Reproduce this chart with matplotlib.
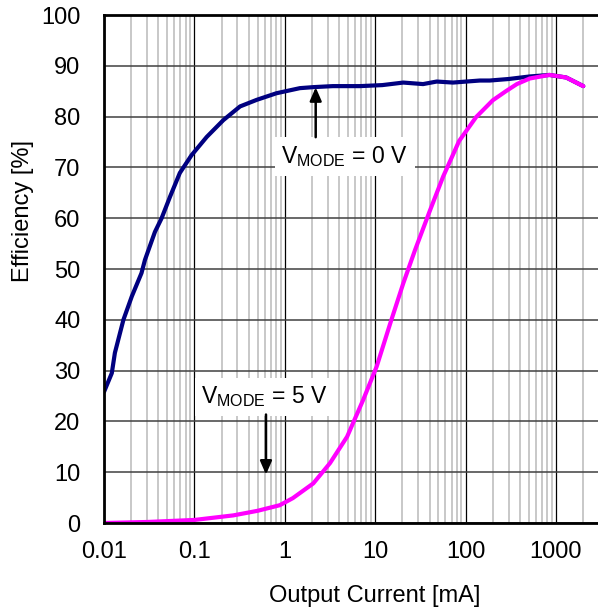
import matplotlib
matplotlib.use("Agg")
import matplotlib.pyplot as plt
from matplotlib.ticker import FixedLocator, LogLocator, NullFormatter

plt.rcParams['font.family'] = ['Liberation Sans', 'DejaVu Sans']
plt.rcParams['mathtext.fontset'] = 'custom'
plt.rcParams['mathtext.rm'] = 'Liberation Sans'
plt.rcParams['mathtext.it'] = 'Liberation Sans'

# Efficiency vs output current, VMODE = 0 V (navy) and VMODE = 5 V (magenta)
i_mode0 = [0.01, 0.0122, 0.0132, 0.0164, 0.0203, 0.026, 0.0284, 0.0366, 0.0434, 0.0537,
           0.069, 0.093, 0.137, 0.209, 0.32, 0.49, 0.81, 1.47, 2.07, 3.4, 6.8, 12,
           20.5, 33.9, 48, 72.6, 144, 185, 300, 513, 850, 1300, 2010]
eff_mode0 = [25.8, 29.5, 33.5, 40, 44.6, 49.2, 51.8, 57.3, 60, 64.2,
             68.9, 72.4, 76, 79.3, 82, 83.3, 84.6, 85.6, 85.8, 86.0, 86.0, 86.2,
             86.7, 86.4, 86.9, 86.7, 87.1, 87.1, 87.4, 87.9, 88.2, 87.7, 86.0]

i_mode5 = [0.01, 0.03, 0.1, 0.27, 0.5, 0.88, 1.23, 2.07, 3.17, 4.9, 7.36, 10.4, 14.7,
           20.5, 27.6, 40.6, 56.6, 85, 131, 200, 280, 370, 513, 850, 1300, 2010]
eff_mode5 = [0, 0.2, 0.6, 1.5, 2.4, 3.5, 4.9, 7.8, 11.8, 17, 24.2, 30.8, 39.3,
             47.2, 53.7, 61.6, 68.2, 75.2, 79.9, 83.2, 85.0, 86.4, 87.5, 88.2, 87.7, 86.0]

x_ticks = [0.01, 0.1, 1, 10, 100, 1000]
x_labels = ['0.01', '0.1', '1', '10', '100', '1000']
y_ticks = list(range(0, 101, 10))

fig = plt.figure(figsize=(5.98, 6.08), dpi=100)
ax = fig.add_axes([104 / 598, 85 / 608, 495 / 598, 508 / 608])

ax.set_xscale('log')
ax.set_xlim(0.01, 3000)
ax.set_ylim(0, 100)

ax.xaxis.set_major_locator(FixedLocator(x_ticks))
ax.set_xticklabels(x_labels)
ax.xaxis.set_minor_locator(LogLocator(base=10, subs=range(2, 10), numticks=20))
ax.xaxis.set_minor_formatter(NullFormatter())
ax.set_yticks(y_ticks)

ax.grid(which='minor', axis='x', color='#c8c8c8', linewidth=1.4)
ax.grid(which='major', axis='x', color='#000000', linewidth=0.9)
ax.grid(which='major', axis='y', color='#404040', linewidth=1.1)
ax.set_axisbelow(True)

ax.tick_params(which='both', length=0, labelsize=17)
ax.tick_params(axis='x', pad=13)
ax.tick_params(axis='y', pad=17)
for s in ['left', 'bottom', 'top']:
    ax.spines[s].set_linewidth(2)
ax.spines['right'].set_visible(False)

ax.plot(i_mode0, eff_mode0, color='#000080', linewidth=3.0, solid_capstyle='round',
        solid_joinstyle='round')
ax.plot(i_mode5, eff_mode5, color='#ff00ff', linewidth=3.0, solid_capstyle='round',
        solid_joinstyle='round')

ax.set_xlabel('Output Current [mA]', fontsize=17, labelpad=16)
ax.set_ylabel('Efficiency [%]', fontsize=17, labelpad=5)
# labels in the original sit off the axes centre
ax.xaxis.label.set_x(0.547)
ax.yaxis.label.set_y(0.614)

box = dict(facecolor='white', edgecolor='none', pad=5)
ax.text(4.6, 72.2, r'V$_{\mathrm{MODE}}$ = 0 V', fontsize=16.5, ha='center', va='center', bbox=box)
ax.text(0.60, 24.8, r'V$_{\mathrm{MODE}}$ = 5 V', fontsize=16.5, ha='center', va='center', bbox=box)

arrow = dict(arrowstyle='-|>,head_width=0.35,head_length=0.8', color='black', linewidth=1.8)
ax.annotate('', xy=(2.2, 86.3), xytext=(2.2, 75.4), arrowprops=arrow)
ax.annotate('', xy=(0.62, 9.0), xytext=(0.62, 21.9), arrowprops=arrow)

fig.savefig('out.png', dpi=100)
